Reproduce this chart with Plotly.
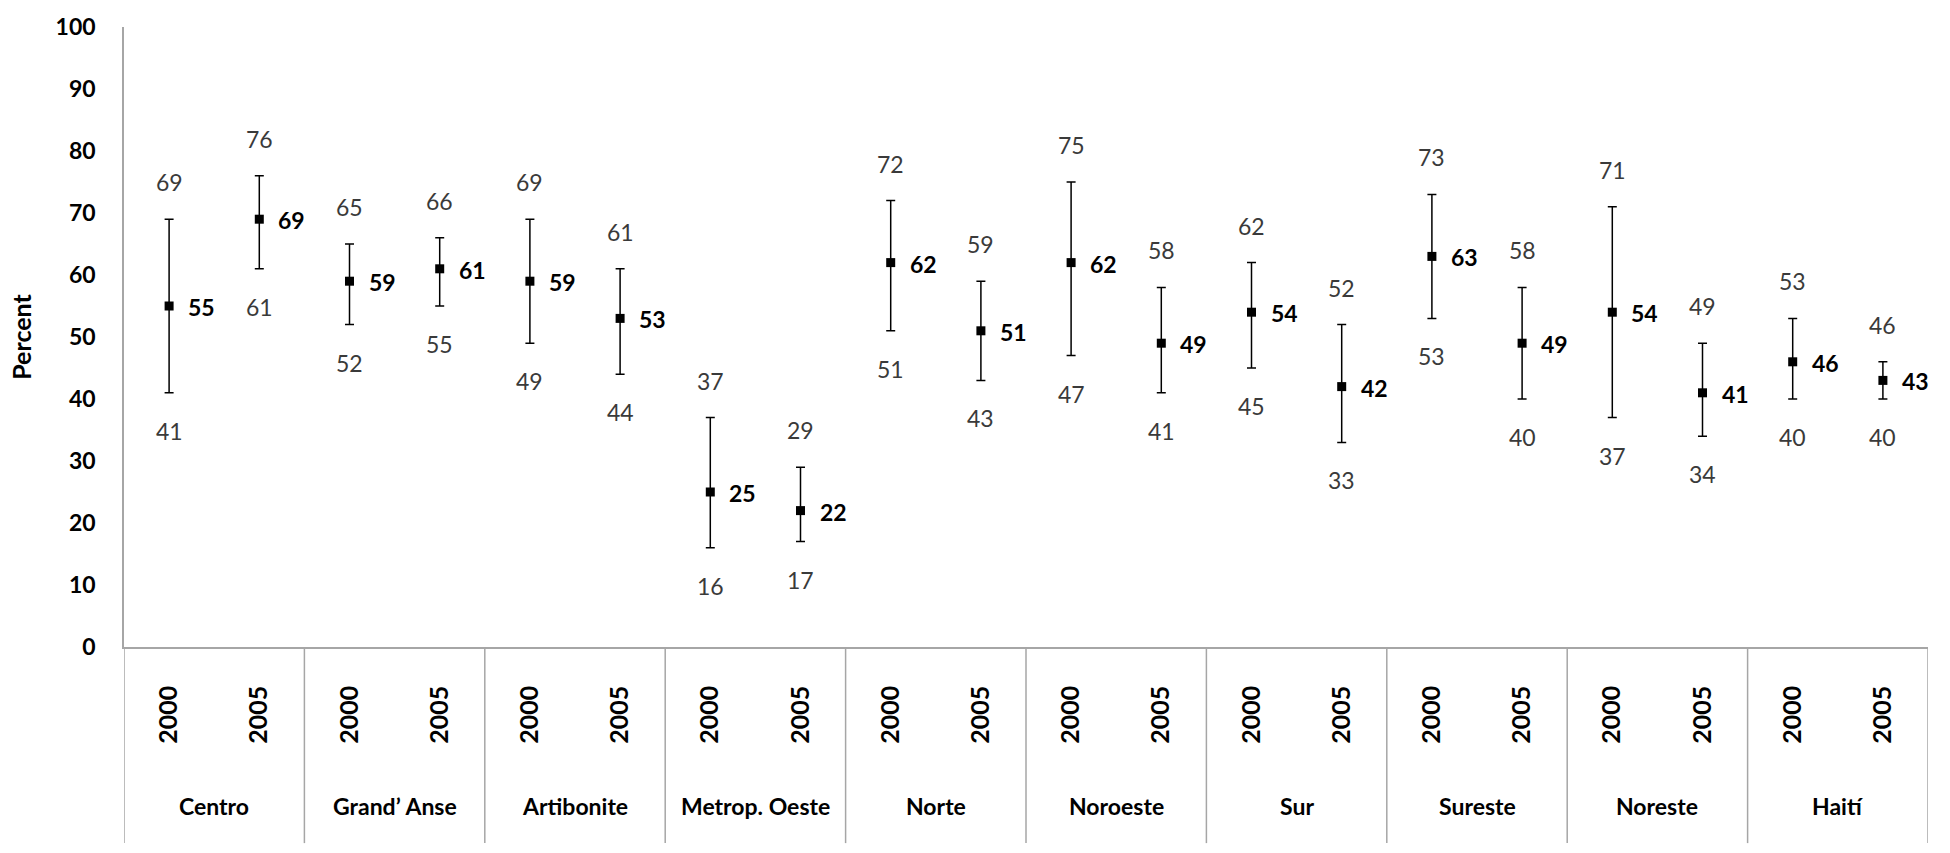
import plotly.graph_objects as go

# ---- data ----
regions = ["Centro", "Grand\u2019 Anse", "Artibonite", "Metrop. Oeste", "Norte",
           "Noroeste", "Sur", "Sureste", "Noreste", "Haití"]
years = ["2000", "2005"]

value_2000 = [55, 59, 59, 25, 62, 62, 54, 63, 54, 46]
lower_2000 = [41, 52, 49, 16, 51, 47, 45, 53, 37, 40]
upper_2000 = [69, 65, 69, 37, 72, 75, 62, 73, 71, 53]

value_2005 = [69, 61, 53, 22, 51, 49, 42, 49, 41, 43]
lower_2005 = [61, 55, 44, 17, 43, 41, 33, 40, 34, 40]
upper_2005 = [76, 66, 61, 29, 59, 58, 52, 58, 49, 46]

y_ticks = list(range(0, 101, 10))

# ---- assemble in plotting order ----
xs, vals, lows, ups, ticktext = [], [], [], [], []
for i, r in enumerate(regions):
    for j, (v, lo, up) in enumerate([(value_2000[i], lower_2000[i], upper_2000[i]),
                                     (value_2005[i], lower_2005[i], upper_2005[i])]):
        xs.append(2 * i + j)
        vals.append(v)
        lows.append(lo)
        ups.append(up)
        ticktext.append(years[j])

FONT = "Lato"
AXIS_GRAY = "#a6a6a6"
LABEL_GRAY = "#3a3a3a"

fig = go.Figure()
fig.add_trace(go.Scatter(
    x=xs, y=vals, mode="markers",
    marker=dict(symbol="square", size=9, color="black"),
    error_y=dict(type="data", symmetric=False,
                 array=[u - v for u, v in zip(ups, vals)],
                 arrayminus=[v - l for v, l in zip(vals, lows)],
                 color="black", thickness=1.5, width=4.5),
    showlegend=False, hoverinfo="skip",
))

annotations = []
for x, v, lo, up in zip(xs, vals, lows, ups):
    annotations.append(dict(x=x, y=up, xref="x", yref="y", text=str(up), showarrow=False,
                            yshift=37, font=dict(family=FONT, size=23, color=LABEL_GRAY)))
    annotations.append(dict(x=x, y=lo, xref="x", yref="y", text=str(lo), showarrow=False,
                            yshift=-38, font=dict(family=FONT, size=23, color=LABEL_GRAY)))
    annotations.append(dict(x=x, y=v, xref="x", yref="y", text="<b>%d</b>" % v, showarrow=False,
                            xanchor="left", xshift=17, yshift=-1,
                            font=dict(family=FONT, size=23, color="black")))

# region names
plot_h = 853 - 21 - 206
for i, r in enumerate(regions):
    annotations.append(dict(x=2 * i + 0.5, y=-(808 - 647) / plot_h, xref="x", yref="paper",
                            text="<b>%s</b>" % r, showarrow=False, yanchor="middle",
                            font=dict(family=FONT, size=23, color="black")))

# group dividers
shapes = []
for k in range(len(regions) + 1):
    shapes.append(dict(type="line", xref="x", yref="paper", x0=2 * k - 0.5, x1=2 * k - 0.5,
                       y0=0, y1=-(845 - 647) / plot_h,
                       line=dict(color=AXIS_GRAY, width=1.5)))

fig.update_layout(
    width=1950, height=853,
    margin=dict(l=124, r=22, t=21, b=206),
    paper_bgcolor="white", plot_bgcolor="white",
    font=dict(family=FONT, color="black"),
    annotations=annotations, shapes=shapes,
    xaxis=dict(range=[-0.5, 2 * len(regions) - 0.5], tickmode="array", tickvals=xs,
               ticktext=ticktext, tickangle=-90,
               tickfont=dict(family=FONT, size=25, color="black", weight="bold"),
               showline=True, linecolor=AXIS_GRAY, linewidth=1.5,
               ticks="outside", ticklen=27, tickcolor="rgba(0,0,0,0)",
               showgrid=False, zeroline=False),
    yaxis=dict(range=[0, 100], tickmode="array", tickvals=y_ticks,
               tickfont=dict(family=FONT, size=23, color="black", weight="bold"),
               showline=True, linecolor=AXIS_GRAY, linewidth=1.5,
               ticks="outside", ticklen=22, tickcolor="rgba(0,0,0,0)",
               showgrid=False, zeroline=False,
               title=dict(text="<b>Percent</b>", standoff=17,
                          font=dict(family=FONT, size=25, color="black"))),
)

fig.write_html("out.html", config={"displayModeBar": False},
               post_script="document.body.style.margin='0';")
